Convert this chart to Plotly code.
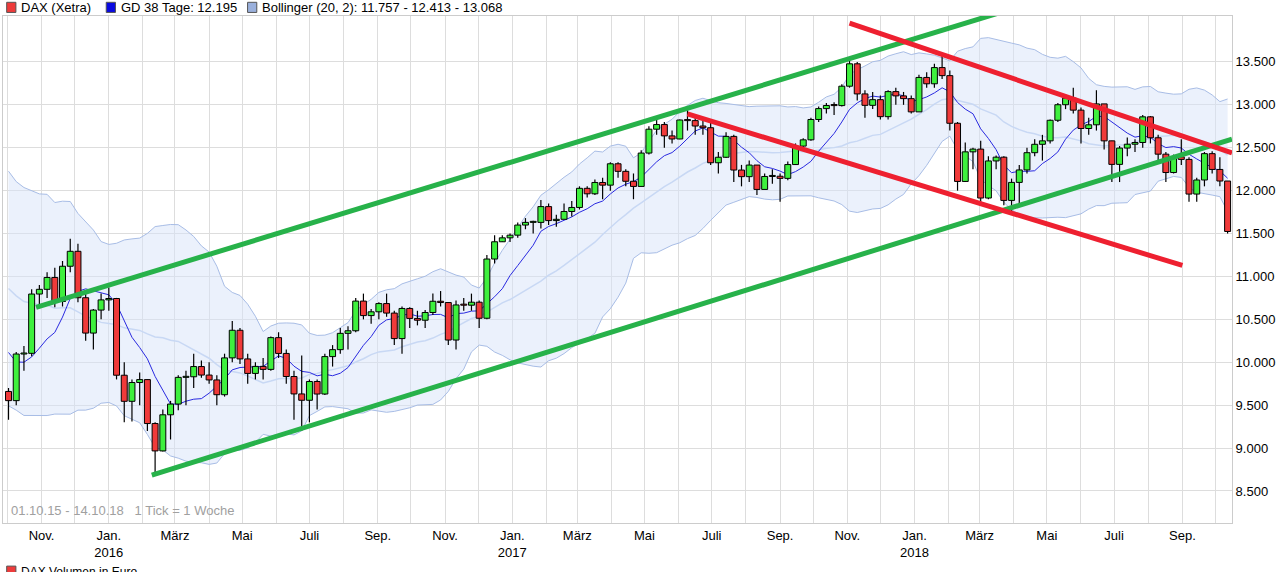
import plotly.graph_objects as go
import pandas as pd
import numpy as np

# weekly closes before the visible window (for indicator warm-up)
hist_close = [11815, 11413, 11197, 11197, 11040, 11492, 10987, 11316, 11674, 11347,
              11308, 11490, 10985, 10124, 10298, 10038, 10123, 10104, 9688]

close = [9553, 10096, 10104, 10795, 10850, 10988, 10708, 11119, 11293, 10752, 10340, 10608, 10727, 10743,
         9849, 9545, 9764, 9798, 9286, 8967, 9388, 9513, 9824, 9831, 9950, 9851, 9794, 9622, 10051, 10373,
         10039, 9870, 9952, 9917, 10287, 10103, 9834, 9631, 9557, 9776, 9630, 10066, 10147, 10337, 10367,
         10713, 10544, 10588, 10684, 10573, 10276, 10627, 10511, 10490, 10580, 10711, 10696, 10259, 10668,
         10665, 10700, 10513, 11203, 11404, 11450, 11481,
         11599, 11630, 11630, 11814, 11651, 11666, 11757, 11804, 12027, 11963, 12095, 12064, 12313, 12225,
         12109, 12049, 12438, 12716, 12770, 12638, 12602, 12823, 12816, 12753, 12733, 12325, 12389, 12632,
         12240, 12163, 12298, 12014, 12165, 12168, 12143, 12304, 12519, 12592, 12829, 12956, 12992, 12991,
         13217, 13478, 13127, 12994, 13060, 12862, 13154, 13104, 13072, 12918,
         13319, 13245, 13434, 13340, 12785, 12107, 12452, 12484, 11914, 12346, 12390, 11886, 12096, 12241,
         12442, 12540, 12580, 12820, 13001, 13078, 12938, 12724, 12767, 13011, 12580, 12306, 12496, 12541,
         12561, 12860, 12616, 12425, 12211, 12394, 12364, 11960, 12124, 12431, 12247, 12112, 11524]

high = [9700, 10120, 10190, 10850, 10900, 11050, 11100, 11180, 11440, 11380, 10800, 10620, 10800, 10870,
        10750, 10000, 9800, 9880, 9800, 9300, 9450, 9550, 9850, 9900, 10100, 10020, 10000, 9850, 10100, 10480,
        10400, 10100, 10000, 10050, 10300, 10350, 10150, 9900, 10080, 9800, 9800, 10100, 10200, 10400, 10420,
        10750, 10800, 10620, 10700, 10800, 10600, 10650, 10640, 10600, 10610, 10800, 10830, 10700, 10720,
        10750, 10800, 10720, 11250, 11480, 11480, 11500,
        11630, 11680, 11650, 11890, 11850, 11720, 11850, 11880, 12050, 12050, 12130, 12150, 12330, 12330,
        12250, 12200, 12470, 12750, 12840, 12800, 12700, 12830, 12950, 12880, 12850, 12800, 12450, 12680,
        12650, 12300, 12350, 12300, 12200, 12250, 12200, 12340, 12550, 12610, 12850, 12980, 13020, 13030,
        13240, 13525, 13500, 13170, 13150, 13110, 13170, 13200, 13150, 13110,
        13350, 13380, 13480, 13600, 13400, 12800, 12560, 12500, 12580, 12400, 12410, 12400, 12140, 12300,
        12500, 12600, 12650, 12830, 13020, 13120, 13200, 12970, 12850, 13170, 13000, 12580, 12520, 12620,
        12600, 12880, 12870, 12650, 12450, 12420, 12600, 12390, 12150, 12450, 12460, 12390, 12070]

low = [9330, 9500, 9900, 10070, 10650, 10750, 10640, 10650, 11050, 10700, 10250, 10150, 10500, 10600,
       9800, 9300, 9310, 9500, 9200, 8700, 8960, 9100, 9440, 9500, 9700, 9820, 9750, 9500, 9600, 10000,
       9980, 9750, 9800, 9800, 9900, 10050, 9750, 9330, 9200, 9300, 9450, 9620, 9950, 10100, 10150,
       10350, 10500, 10450, 10500, 10530, 10200, 10100, 10400, 10430, 10400, 10550, 10650, 10200, 10150,
       10600, 10600, 10400, 10500, 11150, 11400, 11400,
       11450, 11550, 11500, 11560, 11600, 11580, 11700, 11700, 11780, 11920, 11950, 11900, 12000, 12150,
       12050, 11900, 12050, 12420, 12650, 12500, 12550, 12600, 12700, 12650, 12650, 12300, 12200, 12380,
       12100, 12050, 12100, 11950, 12030, 12080, 11870, 12120, 12300, 12500, 12580, 12800, 12900, 12880,
       12980, 13200, 13050, 12850, 12950, 12830, 12830, 13000, 13000, 12900,
       12950, 13200, 13200, 13300, 12700, 12000, 12100, 12250, 11830, 11900, 12250, 11830, 11750, 11830,
       12200, 12400, 12350, 12550, 12800, 12950, 12900, 12550, 12650, 12700, 12480, 12100, 12100, 12400,
       12450, 12500, 12550, 12350, 12100, 12200, 12300, 11870, 11870, 12050, 12200, 12050, 11500]

first_open = 9660

# trend lines (date, value) pairs
green_up = (["2015-10-27", "2018-04-23"], [10640, 14210])
green_dn = (["2016-02-09", "2018-10-16"], [8686, 12600])
red_up = (["2017-11-03", "2018-10-16"], [13953, 12440])
red_dn = (["2017-06-09", "2018-09-01"], [12895, 11128])

month_ticks = pd.date_range("2015-10-01", "2018-10-01", freq="MS")
label_map = {1: "Jan.", 3: "März", 5: "Mai", 7: "Juli", 9: "Sep.", 11: "Nov."}
tick_text = []
for d in month_ticks:
    if d.month in label_map:
        t = label_map[d.month]
        if d.month == 1:
            t += "<br>" + str(d.year)
        tick_text.append(t)
    else:
        tick_text.append("")

dates = pd.date_range("2015-10-02", periods=len(close), freq="W-FRI")
opens = np.array([first_open] + close[:-1], dtype=float)
closes = np.array(close, dtype=float)
highs = np.array(high, dtype=float)
lows = np.array(low, dtype=float)

allc = pd.Series(hist_close + close)
gd = allc.rolling(8).mean().iloc[len(hist_close):].values
mid = allc.rolling(20).mean().iloc[len(hist_close):].values
sd = allc.rolling(20).std(ddof=0).iloc[len(hist_close):].values
bb_up = mid + 2 * sd
bb_dn = mid - 2 * sd

fig = go.Figure()
fig.add_trace(go.Scatter(x=dates, y=bb_dn, mode="lines", line=dict(color="#a8bde6", width=1), hoverinfo="skip"))
fig.add_trace(go.Scatter(x=dates, y=bb_up, mode="lines", line=dict(color="#a8bde6", width=1),
                         fill="tonexty", fillcolor="rgba(215,228,250,0.5)", hoverinfo="skip"))
fig.add_trace(go.Scatter(x=dates, y=mid, mode="lines", line=dict(color="#c8d8f4", width=1.5), hoverinfo="skip"))
fig.add_trace(go.Scatter(x=dates, y=gd, mode="lines", line=dict(color="#2a2ae0", width=1), hoverinfo="skip"))

# wicks
wx, wy = [], []
for d, h, l in zip(dates, highs, lows):
    wx += [d, d, None]
    wy += [h, l, None]
fig.add_trace(go.Scatter(x=wx, y=wy, mode="lines", line=dict(color="black", width=1.2), hoverinfo="skip"))

# bodies as filled polygons
half = pd.Timedelta(hours=65)
up = closes >= opens
for is_up, col in [(True, "#3ef03e"), (False, "#f03a3a")]:
    bx, by = [], []
    for d, o, c in zip(dates, opens, closes):
        if (c >= o) != is_up:
            continue
        lo, hi = min(o, c), max(o, c)
        if hi - lo < 12:
            hi = lo + 12
        bx += [d - half, d + half, d + half, d - half, d - half, None]
        by += [lo, lo, hi, hi, lo, None]
    fig.add_trace(go.Scatter(x=bx, y=by, mode="lines", fill="toself", fillcolor=col,
                             line=dict(color="black", width=1), hoverinfo="skip"))

for (xs, ys), col in [(green_up, "#27b24a"), (green_dn, "#27b24a"), (red_up, "#ee2030"), (red_dn, "#ee2030")]:
    fig.add_trace(go.Scatter(x=xs, y=ys, mode="lines", line=dict(color=col, width=5), hoverinfo="skip"))

fig.update_layout(
    width=1285, height=572, showlegend=False, plot_bgcolor="white", paper_bgcolor="white",
    margin=dict(l=3, r=53, t=16, b=49, autoexpand=False),
    font=dict(family="Liberation Sans, Arial", size=12, color="black"),
    separators=",.",
    xaxis=dict(range=["2015-09-27", "2018-10-16"], tickvals=month_ticks, automargin=False,
               ticktext=tick_text, showgrid=True, gridcolor="#dddddd", showline=True, linecolor="#cccccc",
               mirror=True, ticks="", tickfont=dict(size=13)),
    yaxis=dict(side="right", range=[8127, 14035], tickvals=list(range(8500, 14000, 500)), tickformat=",d",
               automargin=False, showgrid=True, gridcolor="#dddddd", showline=True, linecolor="#cccccc",
               mirror=True, ticks="", tickfont=dict(size=13)),
)

legend = [(0.003, "#ee3b3b", "DAX (Xetra)"), (0.084, "#0a0ae0", "GD 38 Tage: 12.195"),
          (0.199, "#9ab0dc", "Bollinger (20, 2): 11.757 - 12.413 - 13.068")]
for x0, col, txt in legend:
    fig.add_shape(type="rect", xref="paper", yref="paper", x0=x0, x1=x0 + 0.0075, y0=1.007, y1=1.027,
                  fillcolor=col, line=dict(color="#555555", width=1))
    fig.add_annotation(xref="paper", yref="paper", x=x0 + 0.01, y=1.017, text=txt, showarrow=False,
                       xanchor="left", yanchor="middle", font=dict(size=13))
fig.add_shape(type="rect", xref="paper", yref="paper", x0=0.003, x1=0.0105, y0=-0.105, y1=-0.085,
              fillcolor="#ee3b3b", line=dict(color="#555555", width=1))
fig.add_annotation(xref="paper", yref="paper", x=0.013, y=-0.096, text="DAX Volumen in Euro", showarrow=False,
                   xanchor="left", yanchor="middle", font=dict(size=12))
fig.add_annotation(xref="paper", yref="paper", x=0.005, y=0.024, text="01.10.15 - 14.10.18   1 Tick = 1 Woche",
                   showarrow=False, xanchor="left", yanchor="middle", font=dict(size=13, color="#a0a0a0"))

fig.write_html("out.html", config={"displayModeBar": False})
with open("out.html", encoding="utf-8") as f:
    html = f.read()
html = html.replace("<body>", '<body style="margin:0;padding:0;overflow:hidden">', 1)
with open("out.html", "w", encoding="utf-8") as f:
    f.write(html)
